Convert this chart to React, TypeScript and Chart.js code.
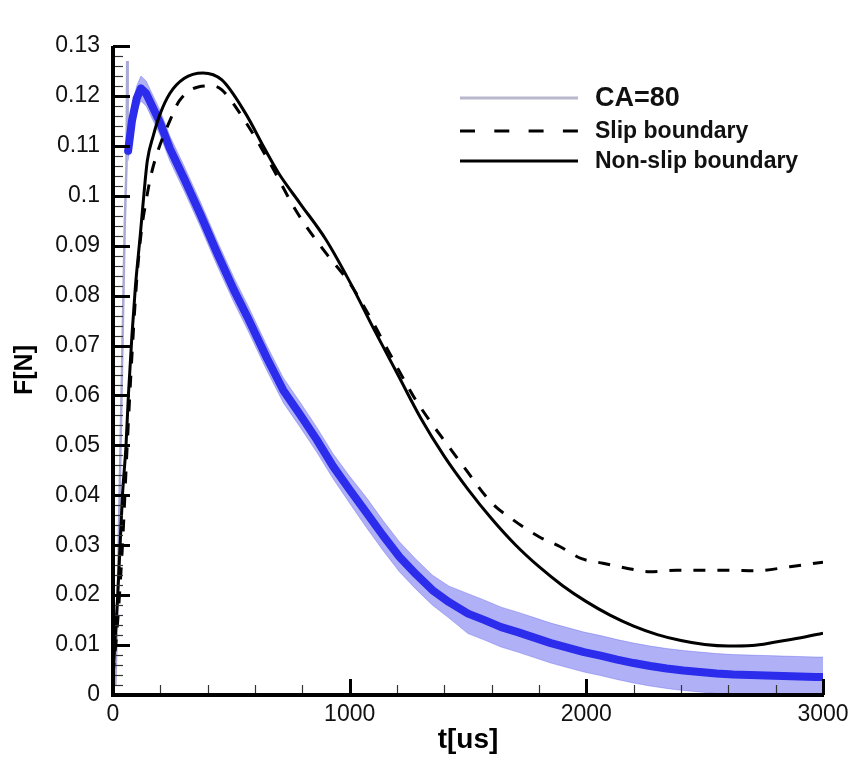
import React, { useEffect, useRef } from "react";
import { Chart, registerables } from "chart.js";

Chart.register(...registerables);

// ---- data ----
const solidT = [0, 10, 20, 30, 40, 55, 65, 80, 95, 115, 130, 145, 170, 200, 240, 300, 380, 460, 560, 640, 700, 790, 900, 1000, 1100, 1200, 1300, 1400, 1500, 1600, 1700, 1800, 1900, 2000, 2100, 2200, 2300, 2400, 2500, 2600, 2700, 2800, 2900, 3000];
const solidF = [0.004, 0.012, 0.02, 0.03, 0.04, 0.05, 0.06, 0.072, 0.082, 0.092, 0.1, 0.107, 0.112, 0.1165, 0.1205, 0.1235, 0.1246, 0.1232, 0.1165, 0.1095, 0.1045, 0.0985, 0.0912, 0.0828, 0.0735, 0.0645, 0.0555, 0.0478, 0.0412, 0.0353, 0.0301, 0.0257, 0.0219, 0.0187, 0.016, 0.0138, 0.0121, 0.0109, 0.0101, 0.0098, 0.0099, 0.0106, 0.0114, 0.0124];

const dashedT = [0, 20, 40, 60, 80, 100, 120, 140, 160, 190, 240, 280, 360, 420, 460, 560, 660, 780, 900, 1000, 1100, 1160, 1270, 1330, 1410, 1470, 1600, 1690, 1800, 1890, 1980, 2070, 2170, 2270, 2380, 2490, 2600, 2720, 2860, 3000];
const dashedF = [0.004, 0.015, 0.03, 0.05, 0.068, 0.083, 0.093, 0.099, 0.104, 0.109, 0.115, 0.119, 0.1218, 0.122, 0.1212, 0.1148, 0.1068, 0.0965, 0.0885, 0.0825, 0.0745, 0.0692, 0.0598, 0.0555, 0.0503, 0.0465, 0.0385, 0.0351, 0.0317, 0.0297, 0.0273, 0.0264, 0.0254, 0.0247, 0.025, 0.025, 0.025, 0.0249, 0.0257, 0.0266];

// faint, thin rising part of the measured signal
const riseT = [10, 20, 30, 40, 50, 57, 60, 62, 66];
const riseF = [0.002, 0.02, 0.045, 0.07, 0.095, 0.106, 0.127, 0.108, 0.11];

const blueT = [64, 80, 100, 118, 140, 165, 200, 240, 300, 370, 440, 510, 570, 650, 720, 790, 860, 930, 1000, 1070, 1140, 1210, 1280, 1350, 1420, 1500, 1570, 1640, 1710, 1780, 1850, 1920, 1990, 2060, 2130, 2200, 2270, 2340, 2410, 2480, 2550, 2620, 2690, 2760, 2830, 2900, 2970, 3000];
const blueF = [0.109, 0.115, 0.1195, 0.1215, 0.1205, 0.118, 0.1145, 0.1095, 0.1035, 0.0962, 0.0885, 0.0812, 0.0755, 0.0675, 0.061, 0.0562, 0.0512, 0.0458, 0.0411, 0.0366, 0.032, 0.0277, 0.0242, 0.021, 0.0186, 0.0163, 0.015, 0.0136, 0.0126, 0.0115, 0.0104, 0.0095, 0.0086, 0.0079, 0.0071, 0.0064, 0.0058, 0.0053, 0.0049, 0.0046, 0.0043, 0.0041, 0.004, 0.0039, 0.0038, 0.0037, 0.0036, 0.0036];
const blueUpper = [0.111, 0.1175, 0.122, 0.124, 0.123, 0.1205, 0.117, 0.112, 0.106, 0.0987, 0.091, 0.0837, 0.078, 0.07, 0.0635, 0.0587, 0.0537, 0.0483, 0.0438, 0.0396, 0.035, 0.0307, 0.0272, 0.024, 0.0218, 0.0203, 0.019, 0.0176, 0.0166, 0.0155, 0.0144, 0.0135, 0.0126, 0.0119, 0.0111, 0.0104, 0.0098, 0.0093, 0.0089, 0.0086, 0.0083, 0.0081, 0.008, 0.0079, 0.0078, 0.0077, 0.0076, 0.0076];
const blueLower = [0.107, 0.1125, 0.117, 0.119, 0.118, 0.1155, 0.112, 0.107, 0.101, 0.0937, 0.086, 0.0787, 0.073, 0.065, 0.0585, 0.0537, 0.0487, 0.0433, 0.0384, 0.0336, 0.029, 0.0247, 0.0212, 0.018, 0.0154, 0.0123, 0.011, 0.0096, 0.0086, 0.0075, 0.0064, 0.0055, 0.0046, 0.0039, 0.0031, 0.0024, 0.0018, 0.0013, 0.0009, 0.0006, 0.0003, 0.0001, 0, 0, 0, 0, 0, 0];

const legendLabels = ["CA=80", "Slip boundary", "Non-slip boundary"];
const xTitle = "t[us]";
const yTitle = "F[N]";

const pts = (xs: number[], ys: number[]) => xs.map((x, i) => ({ x, y: ys[i] }));

const BLUE = "rgb(44,44,236)";
const FONT = "'Liberation Sans', Arial, sans-serif";

const decorPlugin = {
  id: "decor",
  afterDatasetsDraw(chart: any) {
    const { ctx, chartArea: a, scales } = chart;
    const x = scales.x;
    const y = scales.y;
    ctx.save();
    ctx.lineCap = "butt";
    // y ticks (inward)
    for (let i = 0; i <= 65; i++) {
      const v = i * 0.002;
      const py = Math.round(y.getPixelForValue(v)) + 0.5;
      const major = i % 5 === 0;
      ctx.lineWidth = major ? 3 : 1.2;
      ctx.strokeStyle = major ? "#000" : "#333";
      ctx.beginPath();
      ctx.moveTo(a.left, py);
      ctx.lineTo(a.left + (major ? 17 : 10), py);
      ctx.stroke();
    }
    // x ticks (inward)
    for (let i = 0; i <= 15; i++) {
      const v = i * 200;
      const px = Math.round(x.getPixelForValue(v)) + 0.5;
      const major = i % 5 === 0;
      ctx.lineWidth = major ? 3 : 1.2;
      ctx.strokeStyle = major ? "#000" : "#333";
      ctx.beginPath();
      ctx.moveTo(px, a.bottom);
      ctx.lineTo(px, a.bottom - (major ? 16 : 10));
      ctx.stroke();
    }
    // axis lines
    ctx.strokeStyle = "#000";
    ctx.lineWidth = 4;
    ctx.beginPath();
    ctx.moveTo(a.left, a.top);
    ctx.lineTo(a.left, a.bottom);
    ctx.lineTo(a.right + 1, a.bottom);
    ctx.stroke();

    // axis titles
    ctx.fillStyle = "#000";
    ctx.textAlign = "center";
    ctx.textBaseline = "middle";
    ctx.font = `bold 28px ${FONT}`;
    ctx.fillText(xTitle, (a.left + a.right) / 2, 740);
    ctx.font = `bold 25px ${FONT}`;
    ctx.save();
    ctx.translate(25, 370);
    ctx.rotate(-Math.PI / 2);
    ctx.fillText(yTitle, 0, 0);
    ctx.restore();

    // legend
    const rows = [98, 131, 161];
    const x0 = 460;
    const x1 = 578;
    ctx.textAlign = "left";
    ctx.textBaseline = "middle";
    ctx.strokeStyle = "#b8b8cc";
    ctx.lineWidth = 3;
    ctx.setLineDash([]);
    ctx.beginPath();
    ctx.moveTo(x0, rows[0]);
    ctx.lineTo(x1, rows[0]);
    ctx.stroke();
    ctx.strokeStyle = "#000";
    ctx.lineWidth = 3;
    ctx.setLineDash([15, 19.3]);
    ctx.beginPath();
    ctx.moveTo(x0, rows[1]);
    ctx.lineTo(x1, rows[1]);
    ctx.stroke();
    ctx.setLineDash([]);
    ctx.beginPath();
    ctx.moveTo(x0, rows[2]);
    ctx.lineTo(x1, rows[2]);
    ctx.stroke();
    ctx.fillStyle = "#111";
    ctx.font = `bold 27px ${FONT}`;
    ctx.fillText(legendLabels[0], 595, rows[0] + 1);
    ctx.font = `bold 23px ${FONT}`;
    ctx.fillText(legendLabels[1], 595, rows[1] + 1);
    ctx.fillText(legendLabels[2], 595, rows[2] + 1);
    ctx.restore();
  },
};

export default function App() {
  const ref = useRef<HTMLCanvasElement | null>(null);
  useEffect(() => {
    document.body.style.margin = "0";
    const canvas = ref.current;
    if (!canvas) return;
    const chart = new Chart(canvas, {
      type: "line",
      data: {
        datasets: [
          {
            label: legendLabels[2],
            data: pts(solidT, solidF),
            borderColor: "#000",
            borderWidth: 3,
            pointRadius: 0,
            cubicInterpolationMode: "monotone",
            fill: false,
          },
          {
            label: legendLabels[1],
            data: pts(dashedT, dashedF),
            borderColor: "#000",
            borderWidth: 3,
            borderDash: [12, 12],
            pointRadius: 0,
            cubicInterpolationMode: "monotone",
            fill: false,
          },
          {
            label: legendLabels[0],
            data: pts(blueT, blueF),
            borderColor: BLUE,
            borderWidth: 8,
            borderCapStyle: "round",
            borderJoinStyle: "round",
            pointRadius: 0,
            tension: 0,
            fill: false,
          },
          {
            label: "band-upper",
            data: pts(blueT, blueUpper),
            borderColor: "rgba(80,80,235,0.35)",
            borderWidth: 1,
            pointRadius: 0,
            tension: 0,
            fill: "+1",
            backgroundColor: "rgba(80,80,235,0.45)",
          },
          {
            label: "band-lower",
            data: pts(blueT, blueLower),
            borderColor: "rgba(80,80,235,0.35)",
            borderWidth: 1,
            pointRadius: 0,
            tension: 0,
            fill: false,
          },
          {
            label: "rise",
            data: pts(riseT, riseF),
            borderColor: "rgba(140,140,200,0.75)",
            borderWidth: 2.5,
            pointRadius: 0,
            tension: 0,
            fill: false,
          },
        ],
      },
      options: {
        animation: false,
        responsive: false,
        layout: { padding: { left: 0, top: 46, right: 32, bottom: 0 } },
        plugins: {
          legend: { display: false },
          tooltip: { enabled: false },
        },
        scales: {
          x: {
            type: "linear",
            min: 0,
            max: 3000,
            afterFit: (s: any) => {
              s.height = 65;
            },
            grid: { display: false, drawTicks: false },
            border: { display: false },
            ticks: {
              stepSize: 1000,
              padding: 6,
              color: "#111",
              font: { family: FONT, size: 23 },
              maxRotation: 0,
              callback: (v: any) => String(Math.round(Number(v))),
            },
          },
          y: {
            type: "linear",
            min: 0,
            max: 0.13,
            afterFit: (s: any) => {
              s.width = 113;
            },
            grid: { display: false, drawTicks: false },
            border: { display: false },
            ticks: {
              stepSize: 0.01,
              padding: 13,
              color: "#111",
              font: { family: FONT, size: 23 },
              callback: (v: any) => String(Number(Number(v).toFixed(2))),
            },
          },
        },
      },
      plugins: [decorPlugin],
    });
    return () => chart.destroy();
  }, []);
  return (
    <div style={{ position: "absolute", left: 0, top: 0, width: 855, height: 760 }}>
      <canvas ref={ref} width={855} height={760} style={{ display: "block" }} />
    </div>
  );
}
